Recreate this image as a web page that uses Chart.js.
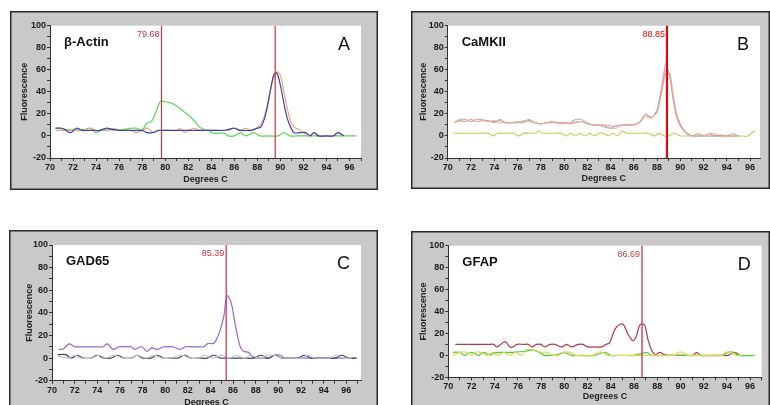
<!DOCTYPE html>
<html lang="en">
<head>
  <meta charset="UTF-8" />
  <title>Melt curves: β-Actin, CaMKII, GAD65, GFAP</title>
  <script src="https://cdn.jsdelivr.net/npm/chart.js"></script>
  <style>
    body {
      margin: 0;
      width: 770px;
      height: 405px;
      overflow: hidden;
      position: relative;
      background: #fff;
      font-family: Arial, "Liberation Sans", sans-serif;
    }
    canvas {
      position: absolute;
    }
  </style>
</head>
<body>
  <canvas id="panelA"></canvas>
  <canvas id="panelB"></canvas>
  <canvas id="panelC"></canvas>
  <canvas id="panelD"></canvas>
  <script>
    // ---- A: beta-Actin ----
    const tempsA_green = [70.4,71,71.5,72,72.5,73,73.5,74,74.5,75,75.5,76,76.5,77,77.5,78,78.4,78.8,79.2,79.6,80,80.5,81,81.5,82,82.5,83,83.4,83.8,84.1,84.6,85.1,85.5,86,86.5,87,87.7,88.2,89,89.8,90.3,90.8,91.5,93,95,96.6];
    const fluoA_green  = [7,7,5.5,5.5,5.5,6,7,3,5.5,5.5,5.5,5.5,6,7,7,5.5,11.5,13,22,31.5,31,30,27,23,19,14,8,5.5,5,2.5,2.5,2.5,0,0,3,0,3,0,0,0,3,0,0,0,0,0];
    const tempsA_blue  = [70.5,71,71.4,71.8,72.3,72.8,73.3,73.8,74.3,74.9,75.4,76,76.5,77,77.5,78,78.4,78.9,79.4,80,80.5,81,81.5,82,82.5,83,83.5,84,84.5,85,85.5,86,86.5,87,87.5,88,88.3,88.6,88.9,89.2,89.45,89.7,90,90.3,90.6,90.9,91.2,91.7,92.2,92.6,92.9,93.3,94,94.6,95,95.5];
    const fluoA_blue   = [7,7,5,3,7,5,5,5,5,7,6,5,5,5,5,5,3,3,5,5,5,5,5,5,5,5,5,5,5,5,6,7,5,5,5,7,8,15,28,45,56,57,46,30,16,8,3,3,3,0,3,0,0,0,3,0];
    const tempsA_orange = [70.5,71,71.5,72,72.5,73,73.5,74,74.5,75,75.5,76,76.5,77,77.5,78,78.5,79,79.5,80,80.5,81,81.3,81.7,82,82.5,83,83.5,84,84.5,85,85.5,86,86.5,87,87.5,88,88.4,88.8,89.1,89.4,89.7,90,90.3,90.6,90.9,91.2,91.6,92,92.4,93,93.4,94,94.6,95,95.5];
    const fluoA_orange  = [5,5,5,5,5,5,7,5,5,5,7,5,5,5,3,5,7,3,5,5,5,5,7,3,5,7,5,5,5,5,5,5,7,5,7,5,8,12,25,40,52,58,55,40,25,13,8,6,3,0,3,0,0,0,3,0];
    const meltA = [79.68, 89.55];
    const meltLabelsA = ['79.68', ''];

    // ---- B: CaMKII ----
    const tempsB = [70.6,71,71.5,72,72.5,73,73.5,74,74.5,75,75.5,76,76.5,77,77.5,78,78.5,79,79.5,80,80.5,81,81.5,82,82.5,83,83.5,84,84.5,85,85.5,86,86.5,87,87.5,88,88.4,88.75,89.1,89.4,89.7,90.1,90.5,91,91.5,92,92.5,93,93.5,94,94.5,95];
    const fluoB_lavender = [12,15,15,13,15,15,13,13,15,12,12,12,13,15,12,11,12,13,12,12,12,15,15,12,10,10,8,7,9,10,10,10,12,19,16,24,45,66,53,32,16,7,2,0,0,0,0,0,0,0,2,0];
    const fluoB_pink     = [12,14,13,15,13,14,14,12,14,12,12,13,12,14,12,11,12,12,12,12,11,12,13,11,10,10,10,9,9,10,10,10,13,20,17,22,42,60,55,34,18,8,3,0,2,0,2,0,1,0,0,0];
    const fluoB_orange   = [13,13,15,13,15,14,13,14,12,12,12,12,14,13,12,11,12,13,11,11,12,13,13,11,10,10,9,7,7,10,10,10,12,17,17,21,40,57,57,36,20,9,4,0,2,0,2,2,0,0,0,0];
    const tempsB_olive = [70.5,71,71.5,72,72.5,73,73.5,73.9,74.3,74.8,75.3,75.7,76.1,76.5,77,77.5,77.8,78.2,78.8,79.3,79.8,80.2,80.6,81,81.4,81.8,82.2,82.6,83,83.4,83.8,84.2,84.6,85,85.4,85.8,86.3,86.8,87.3,87.8,88.2,88.6,89,89.5,90,90.5,91,92,93,94,95,95.8,96.4];
    const fluoB_olive  = [2.5,2.5,2.5,2.5,2.5,2.5,2.5,0,2.5,2.5,2.5,2.5,0,2.5,2.5,2.5,4.5,2.5,2.5,2.5,2.5,0,2.5,0,2.5,0,2.5,0,2.5,2.5,0,2.5,0,4.5,2.5,2.5,2.5,2.5,2.5,0,2.5,0,0,2.5,0,0,0,0,0,0,0,0,5];
    const meltB = [88.85];
    const meltLabelsB = ['88.85'];

    // ---- C: GAD65 ----
    const tempsC_purple = [70.6,71,71.5,72,72.5,73,73.5,74,74.5,74.9,75.4,75.9,76.5,77,77.3,77.9,78.4,78.8,79.3,79.9,80.3,80.7,81.3,81.8,82.5,83,83.4,83.8,84.3,84.6,84.9,85.2,85.45,85.8,86.2,86.6,86.9,87.4,87.7,88.1,88.6,89.2,89.6,90.2,90.5,91,92,93,94,95,96,96.9];
    const fluoC_purple  = [7.7,8,12.5,10,10,10,10,10,10,12.5,7.7,10,10,10,7.7,10,6,9,7.7,10,10,10,7.7,10,10,10,10,13,13,18,26,38,55,50,29,11,6,5,1,0,0,0,2.5,2.5,0,0,0,0,0,0,0,0];
    const tempsC_navy = [70.5,71.2,71.7,72.2,72.8,73.4,74,74.6,75.2,75.8,76.4,77,77.5,78,78.7,79.3,79.9,80.5,81.1,81.7,82.3,83,83.7,84.3,84.9,85.5,86.2,87,87.8,88.5,89.1,89.7,90.3,91,91.7,92.3,92.9,93.5,94.2,95,95.6,96.2,96.9];
    const fluoC_navy  = [3,3,0,2.5,0,0,2.5,0,0,2.5,0,0,2.5,0,0,2.5,0,0,0,2.5,0,0,0,2.5,0,0,0,0,0,2.5,0,2.5,0,0,0,2.5,0,0,0,0,2.5,0,0];
    const tempsC_gray = [70.5,71.5,72,72.5,73.5,74.2,74.8,75.4,76.3,77,77.5,78.3,79,79.7,80.4,81.5,82.2,82.9,83.5,84.2,85,85.6,86.3,87,87.6,88.3,89,89.6,90.3,91,92,92.6,93.2,93.8,94.5,95.2,95.8,96.5];
    const fluoC_gray  = [2,0,2.5,0,0,2.5,0,2.5,0,0,2.5,0,2.5,0,0,2.5,0,0,2.5,0,2.5,0,2.5,0,2.5,0,2.5,2.5,0,0,0,2.5,0,0,0,2.5,0,0];
    const meltC = [85.39];
    const meltLabelsC = ['85.39'];

    // ---- D: GFAP ----
    const tempsD_red = [70.6,71.5,72.5,73.5,73.9,74.2,74.9,75.3,75.6,75.9,76.5,76.9,77.2,77.6,78,78.3,78.75,79.2,79.75,80.2,80.6,81.2,81.6,82.05,82.6,83.2,83.6,83.9,84.35,84.8,85.1,85.5,85.9,86.2,86.5,86.9,87.2,87.5,87.85,88.2,88.65,89.5,90.5,91.1,91.4,91.7,92.5,93.5,94.1,94.7,95.1];
    const fluoD_red  = [10,10,10,10,10,7.7,12.6,7.7,7.7,10,10,10,7.7,10,10,7.7,10,10,7.7,10,7.7,10,10,7.7,7.7,7.7,10,11.4,23.7,28.3,27.7,19,13.5,17.5,27.7,27.7,14.5,5.2,0.6,2.8,0.5,0,0,0,2.8,0,0,0,0,2.8,0];
    const tempsD_green = [70.4,71,71.4,72,72.6,73,73.6,74,74.6,75.2,75.8,76.4,77,77.3,77.7,78.3,78.9,79.5,80,80.6,81.5,82.6,83.5,84,85,86,87.1,87.5,88.5,90,92,93.7,94.1,94.6,95,96.4];
    const fluoD_green  = [2.8,2.8,0,2.8,0,2.8,0.5,2.5,2.8,2.8,3,3.5,4.5,5,3.5,0,0,1,2.8,0,0,0,2.8,0,0,0,2.8,0,0,0,0,0,2.8,2.8,0,0];
    const tempsD_yellow = [70.4,71,71.6,72,72.3,72.8,73.3,73.8,74.3,74.8,75.3,75.8,76.3,76.7,77.2,77.6,78,78.5,79,79.5,80,80.5,81,82.5,82.9,83.3,83.7,84.5,86,88,89.5,89.8,90.2,90.6,91,92.5,93.5,93.9,94.3,94.8,95.2];
    const fluoD_yellow  = [0,2.8,2.8,0,2.8,2.8,0,2.8,0,2.8,0,2.8,0,5,5,4,2.8,2.8,0,0,2.8,2.8,0,0,2.8,2.8,0,0,0,0,0,2.8,2.8,0,0,0,0,2.8,2.8,0,0];
    const meltD = [86.69];
    const meltLabelsD = ['86.69'];

    // shared y range
    const yMin = -20, yMax = 100;

    const FONT = 'Arial, "Liberation Sans", sans-serif';

    function pts(t, v) {
      return t.map((x, i) => ({ x: x, y: v[i] }));
    }

    function line(t, v, color, tension, width) {
      return {
        data: pts(t, v),
        borderColor: color,
        borderWidth: width || 1.2,
        pointRadius: 0,
        tension: tension === undefined ? 0.35 : tension,
        fill: false
      };
    }

    // frame and plot rectangles in page pixels
    const panels = [
      {
        id: 'panelA', gene: 'β-Actin', letter: 'A',
        frame: { left: 10, top: 11, width: 368, height: 179 },
        plot: { left: 50, top: 25.7, right: 361, bottom: 158 },
        xMax: 97, yTitleGap: 9,
        melt: meltA, meltLabels: meltLabelsA, meltColor: '#c8343c', meltWidth: 1.2,
        datasets: [
          line(tempsA_blue, fluoA_blue, '#4040b0'),
          line(tempsA_orange, fluoA_orange, '#e8a878'),
          line(tempsA_green, fluoA_green, '#5ad65a')
        ]
      },
      {
        id: 'panelB', gene: 'CaMKII', letter: 'B',
        frame: { left: 411, top: 11, width: 359, height: 178 },
        plot: { left: 447.7, top: 25.7, right: 760, bottom: 158 },
        xMax: 96.85, yTitleGap: 7.3,
        melt: meltB, meltLabels: meltLabelsB, meltColor: '#e00808', meltWidth: 2.2,
        datasets: [
          line(tempsB, fluoB_orange, '#ecae80', 0.2, 1),
          line(tempsB, fluoB_pink, '#dc9494', 0.2, 1),
          line(tempsB, fluoB_lavender, '#a4a4dc', 0.2, 1),
          line(tempsB_olive, fluoB_olive, '#c8c850', 0.2, 1.1)
        ]
      },
      {
        id: 'panelC', gene: 'GAD65', letter: 'C',
        frame: { left: 9, top: 230, width: 369, height: 183 },
        plot: { left: 52, top: 245, right: 361, bottom: 380.7 },
        xMax: 97.3, yTitleGap: 15.3,
        melt: meltC, meltLabels: meltLabelsC, meltColor: '#cc3040', meltWidth: 1.2,
        datasets: [
          line(tempsC_gray, fluoC_gray, '#c4c4c4'),
          line(tempsC_navy, fluoC_navy, '#404070'),
          line(tempsC_purple, fluoC_purple, '#9068d4')
        ]
      },
      {
        id: 'panelD', gene: 'GFAP', letter: 'D',
        frame: { left: 411, top: 231, width: 359, height: 176 },
        plot: { left: 448.3, top: 245.7, right: 761.7, bottom: 377.3 },
        xMax: 97, yTitleGap: 7.3,
        melt: meltD, meltLabels: meltLabelsD, meltColor: '#cc4050', meltWidth: 1.4,
        datasets: [
          line(tempsD_yellow, fluoD_yellow, '#e2d84a'),
          line(tempsD_green, fluoD_green, '#46cc46'),
          line(tempsD_red, fluoD_red, '#b03a48')
        ]
      }
    ];

    // gray frame, white plot, melt-peak markers and the panel captions
    function decor(p) {
      return {
        id: 'decor',
        beforeDraw(chart) {
          const ctx = chart.ctx;
          const a = chart.chartArea;
          ctx.save();
          ctx.fillStyle = '#c9c9c9';
          ctx.fillRect(0, 0, chart.width, chart.height);
          ctx.fillStyle = '#fff';
          ctx.fillRect(a.left, a.top, a.right - a.left, a.bottom - a.top);
          ctx.strokeStyle = '#2a2a2a';
          ctx.lineWidth = 1.5;
          ctx.strokeRect(0.75, 0.75, chart.width - 1.5, chart.height - 1.5);
          ctx.restore();
        },
        afterDatasetsDraw(chart) {
          const ctx = chart.ctx;
          const a = chart.chartArea;
          const xs = chart.scales.x;
          ctx.save();
          p.melt.forEach((m, i) => {
            const x = xs.getPixelForValue(m);
            ctx.strokeStyle = p.meltColor;
            ctx.lineWidth = p.meltWidth;
            ctx.beginPath();
            ctx.moveTo(x, a.top);
            ctx.lineTo(x, a.bottom);
            ctx.stroke();
            if (p.meltLabels[i]) {
              ctx.fillStyle = p.meltColor;
              ctx.font = '9px ' + FONT;
              ctx.textAlign = 'right';
              ctx.textBaseline = 'alphabetic';
              ctx.fillText(p.meltLabels[i], x - 2, a.top + 11);
            }
          });
          ctx.fillStyle = '#111';
          ctx.font = 'bold 13px ' + FONT;
          ctx.textAlign = 'left';
          ctx.fillText(p.gene, a.left + 14, a.top + 20);
          ctx.font = '18px ' + FONT;
          ctx.textAlign = 'right';
          ctx.fillText(p.letter, a.right - 11, a.top + 24);
          ctx.restore();
        }
      };
    }

    panels.forEach(p => {
      const canvas = document.getElementById(p.id);
      canvas.width = p.frame.width;
      canvas.height = p.frame.height;
      canvas.style.left = p.frame.left + 'px';
      canvas.style.top = p.frame.top + 'px';

      const yAxisWidth = p.plot.left - p.frame.left;
      const xAxisHeight = p.frame.top + p.frame.height - p.plot.bottom;

      new Chart(canvas.getContext('2d'), {
        type: 'line',
        data: { datasets: p.datasets },
        options: {
          responsive: false,
          animation: false,
          events: [],
          layout: {
            padding: {
              left: 0,
              bottom: 0,
              top: p.plot.top - p.frame.top,
              right: p.frame.left + p.frame.width - p.plot.right
            }
          },
          plugins: {
            legend: { display: false },
            tooltip: { enabled: false }
          },
          scales: {
            x: {
              type: 'linear',
              min: 70,
              max: p.xMax,
              afterFit(scale) { scale.height = xAxisHeight; },
              border: { display: true, color: '#333', width: 1 },
              grid: { drawOnChartArea: false, drawTicks: true, tickLength: 3, color: '#333' },
              ticks: {
                stepSize: 1,
                autoSkip: false,
                includeBounds: false,
                maxRotation: 0,
                padding: 1,
                color: '#1a1a1a',
                font: { family: FONT, size: 9, weight: 'bold' },
                callback: v => (v % 2 === 0 ? String(v) : '')
              },
              title: {
                display: true,
                text: 'Degrees C',
                color: '#222',
                padding: { top: 0, bottom: 4.6 },
                font: { family: FONT, size: 9, weight: 'bold' }
              }
            },
            y: {
              min: yMin,
              max: yMax,
              afterFit(scale) { scale.width = yAxisWidth; },
              border: { display: true, color: '#333', width: 1 },
              grid: { drawOnChartArea: false, drawTicks: true, tickLength: 3, color: '#333' },
              ticks: {
                stepSize: 10,
                autoSkip: false,
                padding: 1,
                color: '#1a1a1a',
                font: { family: FONT, size: 9, weight: 'bold' },
                callback: v => (v % 20 === 0 ? String(v) : '')
              },
              title: {
                display: true,
                text: 'Fluorescence',
                color: '#222',
                padding: { top: p.yTitleGap, bottom: 0 },
                font: { family: FONT, size: 9, weight: 'bold' }
              }
            }
          }
        },
        plugins: [decor(p)]
      });
    });
  </script>
</body>
</html>
